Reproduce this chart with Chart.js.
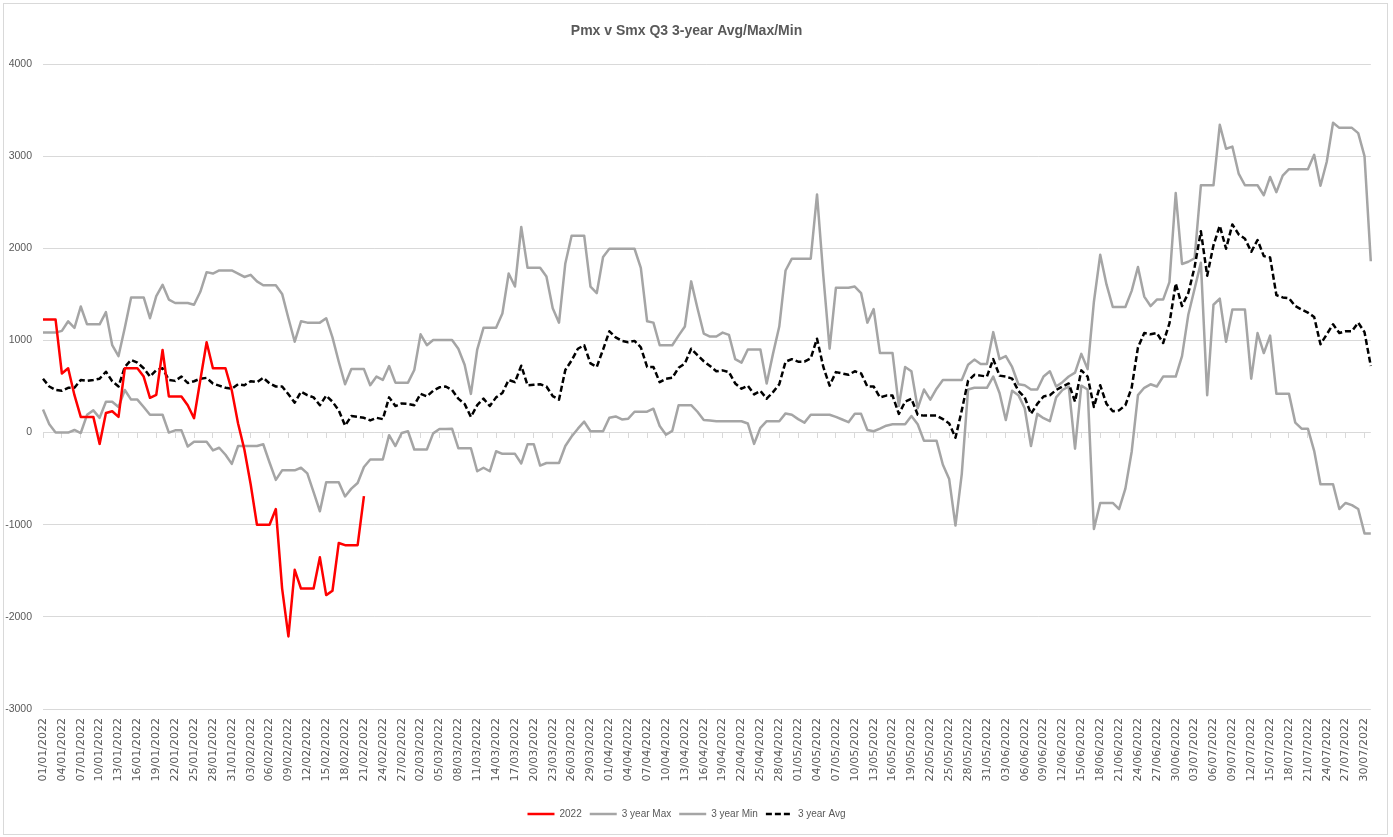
<!DOCTYPE html>
<html>
<head>
<meta charset="utf-8">
<title>Pmx v Smx Q3 3-year Avg/Max/Min</title>
<script src="https://cdn.jsdelivr.net/npm/chart.js@4.4.1/dist/chart.umd.min.js"></script>
<style>
    html, body { margin: 0; padding: 0; background: #fff; }
    #wrap { position: relative; width: 1393px; height: 837px; }
    #frame { position: absolute; left: 3px; top: 3px; width: 1383px; height: 830px; border: 1px solid #d9d9d9; pointer-events: none; }
</style>
</head>
<body>
<div id="wrap">
    <canvas id="chart" width="1393" height="837"></canvas>
    <div id="frame"></div>
</div>
<script>
// --- data (one value per day, 01/01/2022 .. 31/07/2022) ---
const START_DATE = new Date(2022, 0, 1);
const DAY_COUNT = 212;

const series2022 = [
    1226, 1226, 1226, 641, 698, 406, 170, 170, 170, -123,
    212, 231, 170, 698, 698, 698, 608, 377, 410, 896,
    392, 392, 392, 297, 156, 571, 981, 698, 698, 698,
    458, 99, -184, -561, -1000, -1000, -1000, -830, -1693, -2212,
    -1490, -1693, -1693, -1693, -1354, -1764, -1717, -1198, -1222, -1222,
    -1222, -689
];

const seriesMax = [
    1085, 1085, 1085, 1104, 1208, 1137, 1368, 1175, 1175, 1175,
    1307, 948, 830, 1137, 1467, 1467, 1467, 1241, 1481, 1604,
    1443, 1406, 1406, 1406, 1387, 1528, 1741, 1726, 1759, 1759,
    1759, 1726, 1689, 1712, 1641, 1599, 1599, 1599, 1505, 1241,
    986, 1208, 1193, 1193, 1193, 1241, 1033, 769, 524, 689,
    689, 689, 514, 608, 571, 722, 542, 542, 542, 679,
    1066, 948, 1005, 1005, 1005, 1005, 910, 736, 420, 900,
    1137, 1137, 1137, 1292, 1726, 1585, 2231, 1788, 1788, 1788,
    1693, 1349, 1193, 1835, 2137, 2137, 2137, 1585, 1514, 1906,
    1995, 1995, 1995, 1995, 1995, 1788, 1208, 1193, 948, 948,
    948, 1052, 1151, 1641, 1349, 1075, 1042, 1042, 1085, 1061,
    797, 759, 901, 901, 901, 533, 854, 1151, 1759, 1887,
    1887, 1887, 1887, 2585, 1703, 910, 1571, 1571, 1571, 1585,
    1514, 1193, 1340, 863, 863, 863, 288, 712, 665, 264,
    467, 358, 476, 571, 571, 571, 571, 736, 792, 745,
    745, 1090, 797, 830, 712, 524, 514, 467, 467, 608,
    665, 500, 547, 608, 651, 854, 689, 1420, 1929, 1608,
    1363, 1363, 1363, 1538, 1797, 1476, 1373, 1443, 1443, 1632,
    2599, 1830, 1854, 1892, 2684, 2684, 2684, 3340, 3080, 3104,
    2811, 2684, 2684, 2684, 2576, 2774, 2609, 2788, 2859, 2859,
    2859, 2859, 3014, 2679, 2939, 3363, 3307, 3307, 3307, 3250,
    3000, 1859
];

const seriesMin = [
    250, 90, 0, 0, 0, 28, -5, 193, 241, 160,
    335, 335, 278, 462, 358, 358, 278, 193, 193, 193,
    0, 24, 24, -151, -99, -99, -99, -193, -165, -241,
    -340, -146, -146, -146, -146, -127, -325, -514, -410, -410,
    -410, -382, -443, -646, -854, -538, -538, -538, -693, -608,
    -547, -373, -292, -292, -292, -28, -146, -5, 14, -184,
    -184, -184, -9, 38, 40, 42, -170, -170, -170, -420,
    -382, -420, -203, -231, -231, -231, -335, -127, -127, -358,
    -330, -330, -330, -146, -42, 42, 118, 14, 14, 14,
    160, 175, 142, 151, 226, 226, 226, 259, 71, -24,
    19, 297, 297, 297, 226, 137, 132, 123, 123, 123,
    123, 123, 99, -123, 52, 123, 123, 123, 208, 193,
    146, 108, 193, 193, 193, 193, 170, 142, 113, 203,
    203, 28, 14, 42, 75, 90, 90, 90, 179, 90,
    -90, -90, -90, -349, -505, -1009, -450, 467, 486, 486,
    486, 608, 429, 137, 453, 406, 264, -146, 203, 156,
    123, 382, 462, 500, -175, 509, 467, -1047, -764, -764,
    -764, -830, -608, -208, 406, 486, 524, 500, 608, 608,
    608, 830, 1278, 1561, 1844, 406, 1387, 1453, 986, 1335,
    1335, 1335, 585, 1080, 863, 1052, 420, 420, 420, 108,
    42, 42, -198, -561, -561, -561, -830, -764, -788, -830,
    -1094, -1094
];

const seriesAvg = [
    585, 500, 462, 453, 486, 486, 571, 561, 571, 585,
    660, 557, 500, 712, 788, 759, 698, 608, 679, 698,
    571, 561, 608, 538, 557, 585, 594, 533, 509, 486,
    476, 524, 514, 557, 547, 594, 533, 500, 500, 415,
    325, 443, 406, 382, 297, 401, 335, 241, 75, 179,
    170, 160, 132, 160, 146, 382, 288, 316, 311, 297,
    420, 392, 453, 491, 500, 462, 368, 311, 170, 297,
    368, 288, 382, 429, 571, 547, 726, 514, 519, 524,
    500, 396, 358, 679, 783, 910, 948, 750, 712, 901,
    1099, 1033, 995, 981, 995, 925, 712, 712, 547, 585,
    594, 703, 750, 910, 840, 774, 722, 665, 675, 656,
    533, 476, 509, 415, 453, 368, 439, 524, 769, 797,
    769, 769, 807, 1019, 712, 509, 656, 642, 627, 665,
    642, 500, 500, 382, 401, 401, 203, 335, 368, 193,
    184, 184, 184, 146, 99, -57, 241, 561, 627, 618,
    608, 797, 618, 608, 585, 453, 382, 203, 311, 392,
    406, 462, 500, 533, 335, 675, 608, 278, 514, 311,
    231, 241, 297, 486, 925, 1080, 1066, 1080, 972, 1184,
    1618, 1373, 1514, 1797, 2184, 1703, 2033, 2245, 1995, 2259,
    2151, 2104, 1962, 2090, 1915, 1901, 1491, 1467, 1458, 1373,
    1335, 1302, 1255, 958, 1066, 1175, 1080, 1099, 1099, 1193,
    1090, 722
];

const Y_TICKS = [-3000, -2000, -1000, 0, 1000, 2000, 3000, 4000];
const LABEL_EVERY = 3; // a date label every 3 days

// --- styles ---
const TEXT_COLOR = '#595959';
const GRID_COLOR = '#d9d9d9';
const SANS = "'Liberation Sans', Arial, sans-serif";

// dd/mm/yyyy
function fmtDate(d) {
    const dd = String(d.getDate()).padStart(2, '0');
    const mm = String(d.getMonth() + 1).padStart(2, '0');
    return `${dd}/${mm}/${d.getFullYear()}`;
}

const dateLabels = [];
for (let i = 0; i < DAY_COUNT; i++) {
    const d = new Date(START_DATE);
    d.setDate(d.getDate() + i);
    dateLabels.push(fmtDate(d));
}

const ctx = document.getElementById('chart').getContext('2d');

new Chart(ctx, {
    type: 'line',
    data: {
        labels: dateLabels,
        datasets: [
            { label: '2022', data: series2022, borderColor: '#ff0000', backgroundColor: '#ff0000', borderWidth: 2.5, order: 0 },
            { label: '3 year Max', data: seriesMax, borderColor: '#a5a5a5', backgroundColor: '#a5a5a5', borderWidth: 2.5, order: 3 },
            { label: '3 year Min', data: seriesMin, borderColor: '#a5a5a5', backgroundColor: '#a5a5a5', borderWidth: 2.5, order: 2 },
            { label: '3 year Avg', data: seriesAvg, borderColor: '#000000', backgroundColor: '#000000', borderWidth: 2.5, borderDash: [6, 3], order: 1 }
        ]
    },
    options: {
        responsive: false,
        animation: false,
        events: [],
        elements: {
            point: { radius: 0 },
            line: { tension: 0, fill: false, borderJoinStyle: 'round' }
        },
        layout: { padding: { left: 0, right: 20, top: 0, bottom: 8 } },
        scales: {
            x: {
                type: 'category',
                offset: false,
                grid: { display: false, drawTicks: false },
                border: { display: false },
                ticks: {
                    autoSkip: false,
                    maxRotation: 90,
                    minRotation: 90,
                    padding: 9,
                    color: TEXT_COLOR,
                    font: { family: "'DejaVu Sans', sans-serif", size: 11 },
                    callback: function(value, index) {
                        return index % LABEL_EVERY === 0 ? dateLabels[index] : '';
                    }
                },
                afterFit: scale => { scale.height = 92; }
            },
            // tick marks sitting on the zero line, like the original axis
            xZero: {
                type: 'category',
                position: { y: 0 },
                offset: false,
                labels: dateLabels,
                border: { display: false },
                grid: {
                    drawOnChartArea: false,
                    drawTicks: true,
                    tickLength: 5,
                    color: c => (c.index % LABEL_EVERY === 0 ? GRID_COLOR : 'rgba(0,0,0,0)')
                },
                ticks: { display: false }
            },
            y: {
                min: Y_TICKS[0],
                max: Y_TICKS[Y_TICKS.length - 1],
                afterBuildTicks: scale => { scale.ticks = Y_TICKS.map(v => ({ value: v })); },
                grid: { color: GRID_COLOR, lineWidth: 1, drawTicks: false },
                border: { display: false },
                ticks: {
                    padding: 11,
                    color: TEXT_COLOR,
                    font: { family: SANS, size: 10.5 },
                    callback: value => String(value)
                },
                afterFit: scale => { scale.width = 43; }
            }
        },
        plugins: {
            title: {
                display: true,
                text: 'Pmx v Smx Q3 3-year Avg/Max/Min',
                color: TEXT_COLOR,
                font: { family: SANS, size: 14, weight: 'bold' },
                padding: { top: 23, bottom: 24.2 }
            },
            legend: {
                position: 'bottom',
                labels: {
                    usePointStyle: true,
                    pointStyle: 'line',
                    pointStyleWidth: 27,
                    padding: 8,
                    color: TEXT_COLOR,
                    font: { family: SANS, size: 10 },
                    // keep the dashed look of the avg line in its legend sample
                    generateLabels: chart => Chart.defaults.plugins.legend.labels.generateLabels(chart).map(item => {
                        item.lineDash = chart.data.datasets[item.datasetIndex].borderDash || [];
                        return item;
                    }),
                    sort: (a, b) => a.datasetIndex - b.datasetIndex
                }
            },
            tooltip: { enabled: false }
        }
    }
});
</script>
</body>
</html>
